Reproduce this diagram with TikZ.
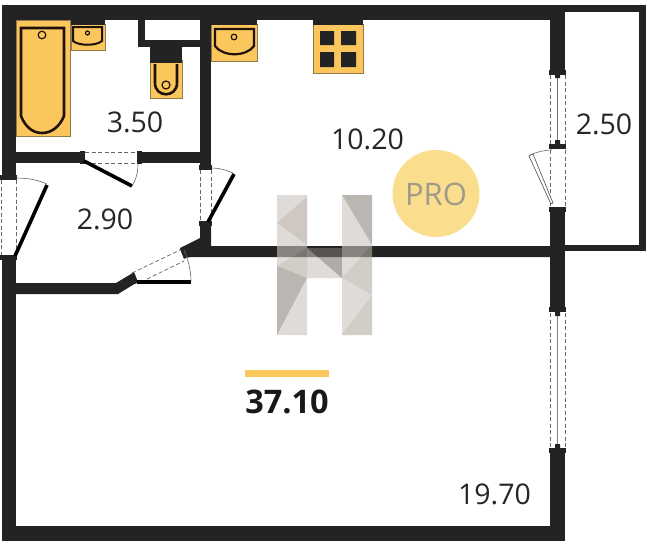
\documentclass[tikz,border=0pt]{standalone}
\usepackage{fontspec}
\setmainfont{Open Sans}
\definecolor{wallc}{HTML}{232323}
\definecolor{yel}{HTML}{FBC65C}
\definecolor{yeledge}{HTML}{8F7A4E}
\definecolor{fixt}{HTML}{1E120A}
\definecolor{pro}{HTML}{FBDD8E}
\definecolor{protxt}{HTML}{A09A8A}
\definecolor{hA}{HTML}{C9C3BE}
\definecolor{hB}{HTML}{B0A398}
\definecolor{hC}{HTML}{B7ACA3}
\definecolor{hD}{HTML}{8C8881}
\definecolor{hE}{HTML}{7A766E}
\tikzset{
 wall/.style={fill=wallc,draw=none},
 fixture/.style={fill=yel,draw=yeledge,line width=.7pt},
 fline/.style={draw=fixt,line width=2.6pt},
 leaf/.style={draw=black,line width=3.6pt},
 swing/.style={draw=black!60,line width=.6pt},
 dashl/.style={draw=black!60,line width=.7pt,dash pattern=on 4pt off 2.5pt},
 roomlabel/.style={font=\fontsize{28.5}{30}\selectfont,text=black!85,inner sep=0pt,anchor=center},
 hl/.style={fill=#1,fill opacity=.6,draw=none},
}
\begin{document}
\begin{tikzpicture}[x=1pt,y=-1pt]
\useasboundingbox (0,0) rectangle (650,546);
\fill[white] (0,0) rectangle (650,546);
% fixtures
\draw[fixture] (16,20) rectangle (70,136);
\draw[fline] (21,28) -- (64,28) -- (64,116) .. controls (60,126) and (52,133) .. (42,133) .. controls (32,133) and (25,126) .. (21,116) -- cycle;
\draw[draw=fixt,line width=1.2pt] (42,35) circle (3.8);
\draw[fixture] (71,24) rectangle (105,50.5);
\fill[wallc] (71,20) rectangle (105,25);
\draw[draw=fixt,line width=2pt] (73,27) -- (102,27) -- (102,41) .. controls (96,46) and (79,46) .. (73,41) -- cycle;
\draw[draw=fixt,line width=1.2pt] (87.5,33) circle (2);
\draw[fixture] (150,60) rectangle (182,98);
\draw[fline] (155,64) -- (155,83) .. controls (155,98) and (177,98) .. (177,83) -- (177,64);
\draw[draw=fixt,line width=1.2pt] (166,85) circle (4);
\fill[wallc] (150,47) rectangle (182,63);
\draw[fixture] (211,24) rectangle (257,61);
\fill[wallc] (211,20) rectangle (257,25);
\draw[draw=fixt,line width=2.2pt] (215,29) -- (254,29) -- (254,46) .. controls (246,57) and (223,57) .. (215,46) -- cycle;
\draw[draw=fixt,line width=1.2pt] (234,37) circle (2.8);
\draw[fixture] (313,24) rectangle (363,73);
\fill[wallc] (313,20) rectangle (363,25);
\fill[wallc] (320,31) rectangle (334,45) (341,31) rectangle (356,45) (320,52) rectangle (334,67) (341,52) rectangle (356,67);
% outer walls
\fill[wall] (2,5) rectangle (565,20);
\fill[wall] (2,5) rectangle (16,177);
\fill[wall] (2,257) rectangle (16,541);
\fill[wall] (2,526) rectangle (565,541);
\fill[wall] (550,5) rectangle (565,73);
\fill[wall] (550,207) rectangle (565,312);
\fill[wall] (550,452) rectangle (565,541);
% balcony
\fill[wall] (565,5) rectangle (646,12);
\fill[wall] (639,5) rectangle (646,251);
\fill[wall] (565,245) rectangle (646,251);
% inner walls
\fill[wall] (16,152) rectangle (81,163);
\fill[wall] (139,152) rectangle (200,163);
\fill[wall] (200,20) rectangle (211,168);
\fill[wall] (138,20) rectangle (145,47);
\fill[wall] (138,40) rectangle (200,47);
\fill[wall] (200,223) -- (211,223) -- (211,246) -- (550,246) -- (550,257) -- (192,257) -- (184,258) -- (180,248) -- (200,238) -- cycle;
\fill[wall] (16,283) -- (116,283) -- (131,274) -- (136,283) -- (118,294) -- (16,294) -- cycle;
% wall caps
\fill[wall] (80,151) rectangle (85,164);
\fill[wall] (137,151) rectangle (142,164);
\fill[wall] (199,165) rectangle (212,170);
\fill[wall] (199,221) rectangle (212,226);
\fill[wall] (0,175) rectangle (17,180);
\fill[wall] (0,255) rectangle (17,260);
\fill[wall] (549,70) rectangle (566,75);
\fill[wall] (549,144) rectangle (566,149);
\fill[wall] (549,307) rectangle (566,312);
\fill[wall] (549,448) rectangle (566,453);
\fill[wall] (180,249) -- (183,247) -- (187,257) -- (184,259) -- cycle;
\fill[wall] (131,274) -- (134,272) -- (138,282) -- (135,284) -- cycle;
% bath door
\draw[dashl] (85,152) -- (137,152) (85,163) -- (137,163);
\draw[leaf] (84,161) -- (132,186);
\draw[swing] (132,186) .. controls (136,180) and (138,172) .. (138,164);
% left entrance door
\draw[dashl] (1,180) -- (1,255) (16,180) -- (16,255);
\draw[leaf] (15,256) -- (47,185);
\draw[swing] (16,178) .. controls (28,178) and (38,180) .. (47,184);
% kitchen door
\draw[dashl] (200,170) -- (200,221) (211,170) -- (211,221);
\draw[leaf] (208,222) -- (234,174);
\draw[swing] (212,168) .. controls (219,168) and (226,170) .. (233,173);
% lower door
\draw[dashl] (132,273) -- (180,250) (147,279) -- (184,261);
\draw[leaf] (137,282) -- (191,282);
\draw[swing] (191,281) .. controls (191,271) and (188,259) .. (184,250);
% balcony window
\draw[dashl] (550,75) -- (550,144) (565,75) -- (565,144);
\draw[draw=black!55,line width=1.1pt] (557.5,75) -- (557.5,144);
\fill[wall] (555,73) rectangle (560,78) (555,140) rectangle (560,145);
% balcony door
\draw[dashl] (550,150) -- (550,206) (565,150) -- (565,206);
\draw[draw=black!70,line width=.6pt,fill=white] (551,204) -- (529,156) -- (533,154) -- (553,203) -- cycle;
\draw[swing] (530,155) .. controls (537,152) and (544,150) .. (552,150);
\fill[wall] (549,207) rectangle (566,212);
% main window
\draw[dashl] (550,313) -- (550,447) (565,313) -- (565,447);
\draw[draw=black!50,line width=1.1pt] (557.5,313) -- (557.5,447);
\fill[wall] (555,312) rectangle (560,316) (555,444) rectangle (560,449);
% PRO
\fill[pro] (436,193.5) circle (43.5);
\node[inner sep=0pt,text=protxt,font=\fontsize{31}{33}\selectfont] (protext) at (436,194) {PRO};
% H watermark
\fill[hl=hA] (277,195) -- (307,195) -- (307,197) -- (277,223) -- cycle;
\fill[hl=hB] (307,197) -- (277,223) -- (307,245) -- cycle;
\fill[hl=hA] (277,223) -- (307,245) -- (307,248) -- (277,266) -- cycle;
\fill[hl=hC] (277,266) -- (307,248) -- (307,278) -- cycle;
\fill[hl=hD] (277,266) -- (307,278) -- (277,335) -- cycle;
\fill[hl=hA] (307,278) -- (307,335) -- (277,335) -- cycle;
\fill[hl=hA] (307,248) -- (342,278) -- (307,278) -- cycle;
\fill[hl=hE] (307,248) -- (342,248) -- (342,278) -- cycle;
\fill[hl=hD] (342,195) -- (372,195) -- (372,245) -- cycle;
\fill[hl=hA] (342,195) -- (372,245) -- (342,278) -- cycle;
\fill[hl=hC] (342,278) -- (372,245) -- (372,295) -- cycle;
\fill[hl=hA] (342,278) -- (372,295) -- (342,335) -- cycle;
\fill[hl=hC] (342,335) -- (372,295) -- (372,335) -- cycle;
% labels
\node[roomlabel] (a) at (135,122) {3.50};
\node[roomlabel] (b) at (105,219) {2.90};
\node[roomlabel] (c) at (367.5,139) {10.20};
\node[roomlabel] (d) at (604,124) {2.50};
\node[roomlabel] (e) at (494.5,494) {19.70};
\fill[fill=yel] (245,370) rectangle (329,377);
\node[inner sep=0pt,font=\bfseries\fontsize{32.5}{34}\selectfont,text=black!90] (t) at (287,402) {37.10};
\end{tikzpicture}
\end{document}
